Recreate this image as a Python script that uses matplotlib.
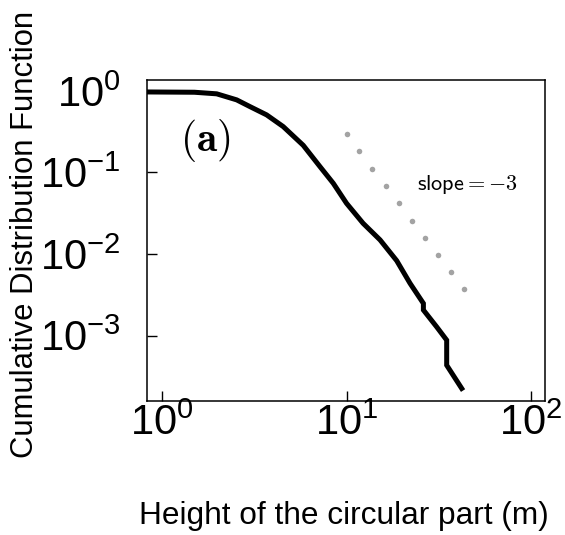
import matplotlib
matplotlib.use("Agg")
import matplotlib.pyplot as plt
from matplotlib.ticker import FixedLocator, FixedFormatter

plt.rcParams['font.family'] = ['Liberation Sans', 'DejaVu Sans']
plt.rcParams['mathtext.fontset'] = 'custom'
plt.rcParams['mathtext.rm'] = 'Liberation Sans'
plt.rcParams['mathtext.it'] = 'Liberation Sans:italic'
plt.rcParams['mathtext.bf'] = 'Liberation Sans:bold'

# CDF curve
height_m = [0.826, 1.5, 1.98, 2.54, 3.0, 3.69, 4.54, 5.83, 7.18, 8.48, 10.0,
            12.3, 15.2, 18.7, 22.1, 26.1, 26.1, 30.8, 34.9, 34.9, 42.1]
cdf = [0.97, 0.962, 0.92, 0.776, 0.641, 0.508, 0.365, 0.215, 0.118, 0.0736, 0.0419,
       0.0238, 0.0149, 0.0083, 0.00437, 0.00248, 0.00206, 0.00128, 0.00088,
       0.000434, 0.000225]

# reference slope = -3 dots
slope_x = [10.0, 11.7, 13.8, 16.3, 19.2, 22.6, 26.6, 31.2, 36.8, 43.4]
slope_y = [0.296, 0.182, 0.111, 0.0682, 0.0419, 0.0256, 0.0158, 0.00973, 0.00596, 0.00369]

xticks = [1, 10, 100]
xticklabels = [r'$10^{0}$', r'$10^{1}$', r'$10^{2}$']
yticks = [1e-3, 1e-2, 1e-1, 1]
yticklabels = [r'$10^{-3}$', r'$10^{-2}$', r'$10^{-1}$', r'$10^{0}$']

fig = plt.figure(figsize=(5.65, 5.35), dpi=100)
ax = fig.add_axes([0.2602, 0.2505, 0.7044, 0.6])

ax.plot(height_m, cdf, color='black', lw=3.6, solid_joinstyle='miter')
ax.plot(slope_x, slope_y, linestyle='none', marker='o', ms=4.0,
        color='#a3a3a3', mec='none')

ax.set_xscale('log')
ax.set_yscale('log')
ax.set_xlim(0.83, 119)
ax.set_ylim(1.58e-4, 1.36)

ax.xaxis.set_major_locator(FixedLocator(xticks))
ax.xaxis.set_major_formatter(FixedFormatter(xticklabels))
ax.yaxis.set_major_locator(FixedLocator(yticks))
ax.yaxis.set_major_formatter(FixedFormatter(yticklabels))
ax.xaxis.set_minor_locator(FixedLocator([]))
ax.yaxis.set_minor_locator(FixedLocator([]))

ax.tick_params(axis='both', direction='in', length=7, width=1, labelsize=30,
               top=False, right=False)
ax.tick_params(axis='x', pad=2)
ax.tick_params(axis='y', pad=19)
for s in ax.spines.values():
    s.set_linewidth(1.1)

ax.set_xlabel('Height of the circular part (m)', fontsize=22.8)
ax.xaxis.set_label_coords(0.495, -(501 - 401) / 321)
ax.set_ylabel('Cumulative Distribution Function', fontsize=22.3)
ax.yaxis.set_label_coords((40 - 147) / 398, 1 - (234 - 80) / 321)

ax.text(0.146, 0.813, r'$\mathbf{(a)}$', transform=ax.transAxes, ha='center',
        va='center', fontsize=30, math_fontfamily='cm')
ax.text(0.678, 0.657, r'$\mathsf{slope}{=}{-}3$', transform=ax.transAxes,
        ha='left', va='baseline', fontsize=16, math_fontfamily='cm')

fig.savefig('out.png', dpi=100)
